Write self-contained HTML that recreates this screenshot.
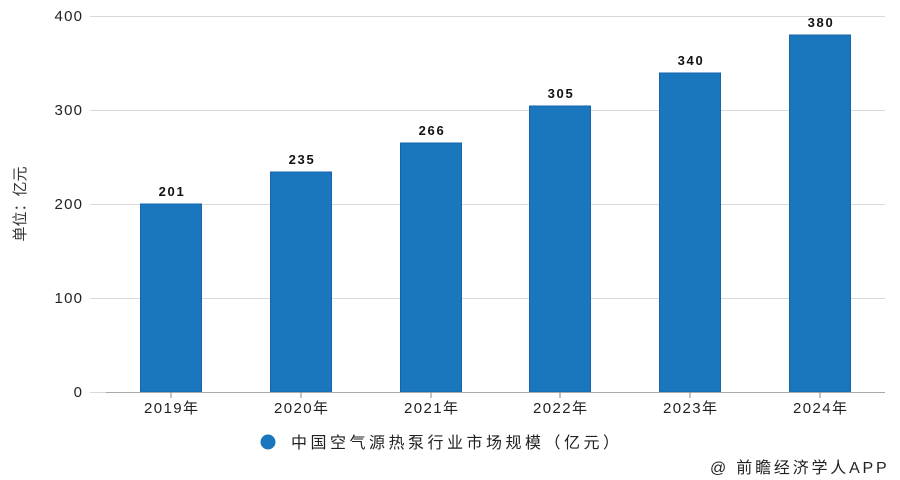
<!DOCTYPE html>
<html><head><meta charset="utf-8"><style>
html,body{margin:0;padding:0;background:#fff;}
svg{display:block;}
text{font-family:"Liberation Sans","Noto Sans CJK SC",sans-serif;}
.dv{font-family:"DejaVu Sans","Noto Sans CJK SC",sans-serif;}
</style></head><body>
<svg width="900" height="480" viewBox="0 0 900 480" xmlns="http://www.w3.org/2000/svg">
<rect width="900" height="480" fill="#fff"/>
<g stroke="#d9d9d9" stroke-width="1">
<line x1="90" y1="16.5" x2="885" y2="16.5"/>
<line x1="90" y1="110.5" x2="885" y2="110.5"/>
<line x1="90" y1="204.5" x2="885" y2="204.5"/>
<line x1="90" y1="298.5" x2="885" y2="298.5"/>
<line x1="90" y1="392.5" x2="106" y2="392.5"/>
</g>
<g class="dv" font-size="15" fill="#222" text-anchor="end" letter-spacing="1.2">
<text x="83.2" y="21">400</text>
<text x="83.2" y="115">300</text>
<text x="83.2" y="209">200</text>
<text x="83.2" y="303">100</text>
<text x="83.2" y="397">0</text>
</g>
<text transform="translate(25,204) rotate(-90)" font-size="15" fill="#333" text-anchor="middle">单位：亿元</text>
<g fill="#1a76bd" stroke="#1465ae" stroke-width="1">
<rect x="140.5" y="204" width="61" height="188"/>
<rect x="270.5" y="172" width="61" height="220"/>
<rect x="400.5" y="143" width="61" height="249"/>
<rect x="529.5" y="106" width="61" height="286"/>
<rect x="659.5" y="73" width="61" height="319"/>
<rect x="789.5" y="35" width="61" height="357"/>
</g>
<line x1="106" y1="392.5" x2="885" y2="392.5" stroke="#aaa" stroke-width="1"/>
<g stroke="#888" stroke-width="1">
<line x1="171" y1="392" x2="171" y2="398"/>
<line x1="301" y1="392" x2="301" y2="398"/>
<line x1="431" y1="392" x2="431" y2="398"/>
<line x1="560" y1="392" x2="560" y2="398"/>
<line x1="690" y1="392" x2="690" y2="398"/>
<line x1="820" y1="392" x2="820" y2="398"/>
</g>
<g class="dv" font-size="15" fill="#222" text-anchor="middle" letter-spacing="1.4">
<text x="171.7" y="413">2019年</text>
<text x="301.7" y="413">2020年</text>
<text x="431.7" y="413">2021年</text>
<text x="560.7" y="413">2022年</text>
<text x="690.7" y="413">2023年</text>
<text x="820.7" y="413">2024年</text>
</g>
<g class="dv" font-size="13" font-weight="bold" fill="#111" text-anchor="middle" letter-spacing="1.7">
<text x="172" y="196">201</text>
<text x="302" y="164">235</text>
<text x="432" y="135">266</text>
<text x="561" y="98">305</text>
<text x="691" y="65">340</text>
<text x="821" y="27">380</text>
</g>
<circle cx="268" cy="442" r="7.5" fill="#1a76bd"/>
<text x="291" y="448" font-size="16" fill="#222" letter-spacing="3.5">中国空气源热泵行业市场规模（亿元）</text>
<text x="710" y="473" font-size="16" fill="#222" letter-spacing="2.8">@ 前瞻经济学人APP</text>
</svg>
</body></html>
